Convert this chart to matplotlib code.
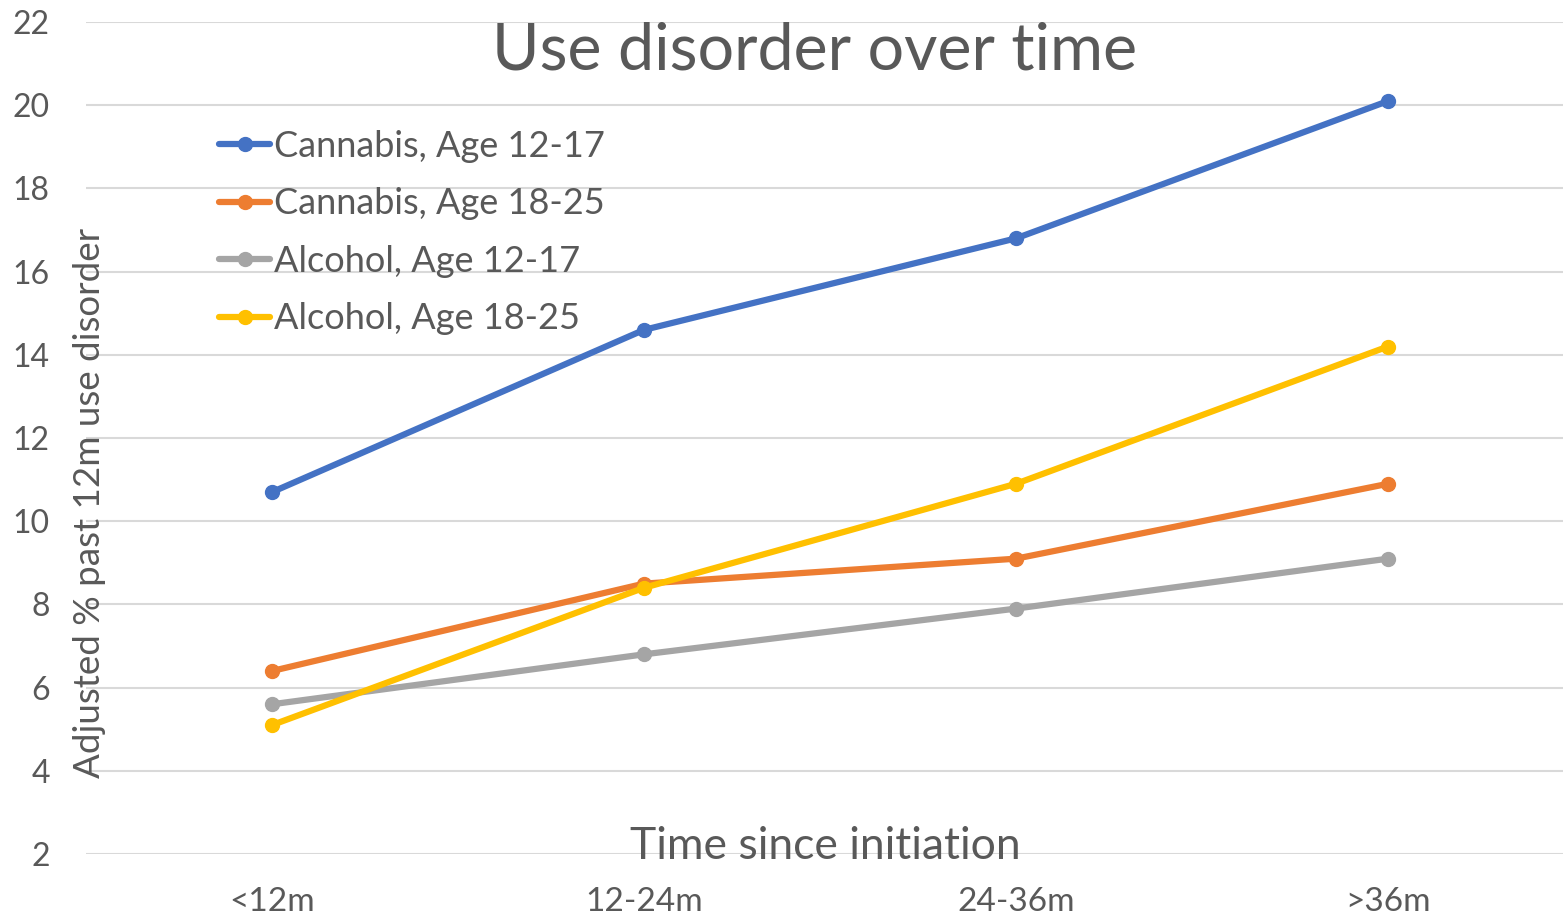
import matplotlib.pyplot as plt

periods = ["<12m", "12-24m", "24-36m", ">36m"]
cannabis_12_17 = [10.7, 14.6, 16.8, 20.1]
cannabis_18_25 = [6.4, 8.5, 9.1, 10.9]
alcohol_12_17 = [5.6, 6.8, 7.9, 9.1]
alcohol_18_25 = [5.1, 8.4, 10.9, 14.2]
y_ticks = [2, 4, 6, 8, 10, 12, 14, 16, 18, 20, 22]

plt.rcParams['font.family'] = ['Lato', 'DejaVu Sans']
text_col = '#595959'

fig = plt.figure(figsize=(15.63, 9.19), dpi=100)
ax = fig.add_axes([0.055, 0.0707, 0.952, 0.9053])

x = range(len(periods))
series = [
    (cannabis_12_17, '#4472C4', 'Cannabis, Age 12-17'),
    (cannabis_18_25, '#ED7D31', 'Cannabis, Age 18-25'),
    (alcohol_12_17, '#A5A5A5', 'Alcohol, Age 12-17'),
    (alcohol_18_25, '#FFC000', 'Alcohol, Age 18-25'),
]
for vals, col, lab in series:
    ax.plot(x, vals, color=col, lw=4.5, marker='o', ms=10, label=lab,
            solid_capstyle='round', zorder=3)

ax.set_xlim(-0.5, 3.5)
ax.set_ylim(2, 22)
ax.set_yticks(y_ticks)
ax.set_xticks(list(x))
ax.set_xticklabels(periods)
ax.grid(axis='y', color='#D9D9D9', lw=1.5)
ax.set_axisbelow(True)
for s in ax.spines.values():
    s.set_visible(False)
ax.tick_params(axis='both', length=0, labelcolor=text_col)
ax.tick_params(axis='y', pad=26, labelsize=23)
ax.tick_params(axis='x', pad=24, labelsize=24)

fig.text(0.521, 0.945, "Use disorder over time", ha='center', va='center',
         fontsize=46.5, color=text_col)
fig.text(0.528, 0.079, "Time since initiation", ha='center', va='center',
         fontsize=32, color=text_col)
fig.text(0.057, 0.453, "Adjusted % past 12m use disorder", ha='center',
         va='center', rotation=90, fontsize=26.5, color=text_col)

ax.legend(loc='upper left', bbox_to_anchor=(0.080, 0.888), frameon=False,
          fontsize=26, labelcolor=text_col, handlelength=1.4,
          handletextpad=0.1, labelspacing=0.68, borderaxespad=0)

fig.savefig('out.png', dpi=100)
